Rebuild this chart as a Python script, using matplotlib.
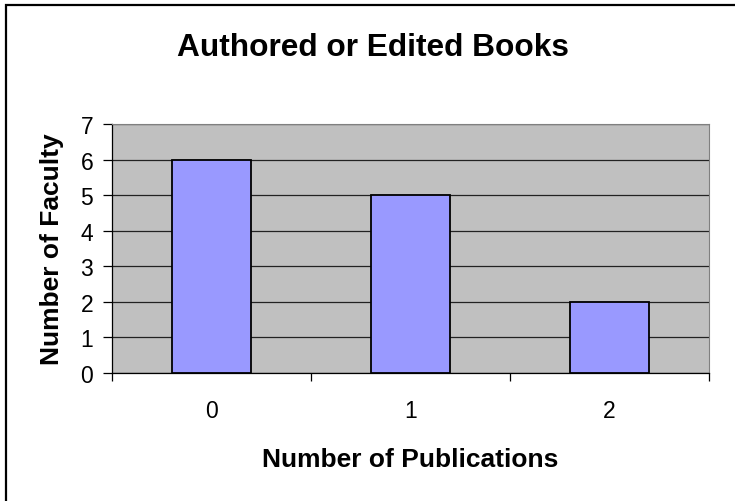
import matplotlib
matplotlib.use('Agg')
import matplotlib.pyplot as plt
from matplotlib.patches import Rectangle
import numpy as np

plt.rcParams['font.family'] = ['Liberation Sans', 'DejaVu Sans']

# data
categories = ['0', '1', '2']
faculty = [6, 5, 2]
yticks = [0, 1, 2, 3, 4, 5, 6, 7]

W, H = 735, 502
fig = plt.figure(figsize=(W/100, H/100), dpi=100)
fig.patch.set_facecolor('white')

# chart border (right/bottom edges fall outside the picture)
fig.patches.append(Rectangle((6/W, -0.1), 1.2, 1 - 6/H + 0.1, transform=fig.transFigure,
                             fill=False, edgecolor='black', lw=1.6))

ax = fig.add_axes([112/W, 1 - 374/H, (709 - 112)/W, (374 - 125)/H])
ax.set_facecolor('#C0C0C0')

x = np.arange(len(categories))
ax.set_axisbelow(True)
ax.yaxis.grid(True, color='#222222', lw=0.9)
ax.bar(x, faculty, width=0.4, color='#9999FF', edgecolor='black', lw=1.3, zorder=3)

ax.set_xlim(-0.5, len(categories) - 0.5)
ax.set_ylim(0, 7)
ax.set_yticks(yticks)
ax.tick_params(axis='y', labelsize=16.5, length=6.5, width=0.9, direction='out', pad=7)

# tick marks between categories, labels at centres
ax.set_xticks(np.arange(-0.5, len(categories), 1.0))
ax.set_xticklabels([])
ax.set_xticks(x, minor=True)
ax.set_xticklabels(categories, minor=True)
ax.tick_params(axis='x', which='major', length=6, width=0.9, direction='out')
ax.tick_params(axis='x', which='minor', length=0, labelsize=16.5, pad=19)

for s in ['top', 'right']:
    ax.spines[s].set_color('#808080')
for s in ['left', 'bottom']:
    ax.spines[s].set_color('black')
    ax.spines[s].set_linewidth(0.9)

ax.set_xlabel('Number of Publications', fontsize=19, fontweight='bold', labelpad=18)
ax.set_ylabel('Number of Faculty', fontsize=19, fontweight='bold', labelpad=12)
fig.text(373/W, 1 - 48/H, 'Authored or Edited Books', fontsize=22.8, fontweight='bold',
         ha='center', va='center')

fig.savefig('out.png', dpi=100)
